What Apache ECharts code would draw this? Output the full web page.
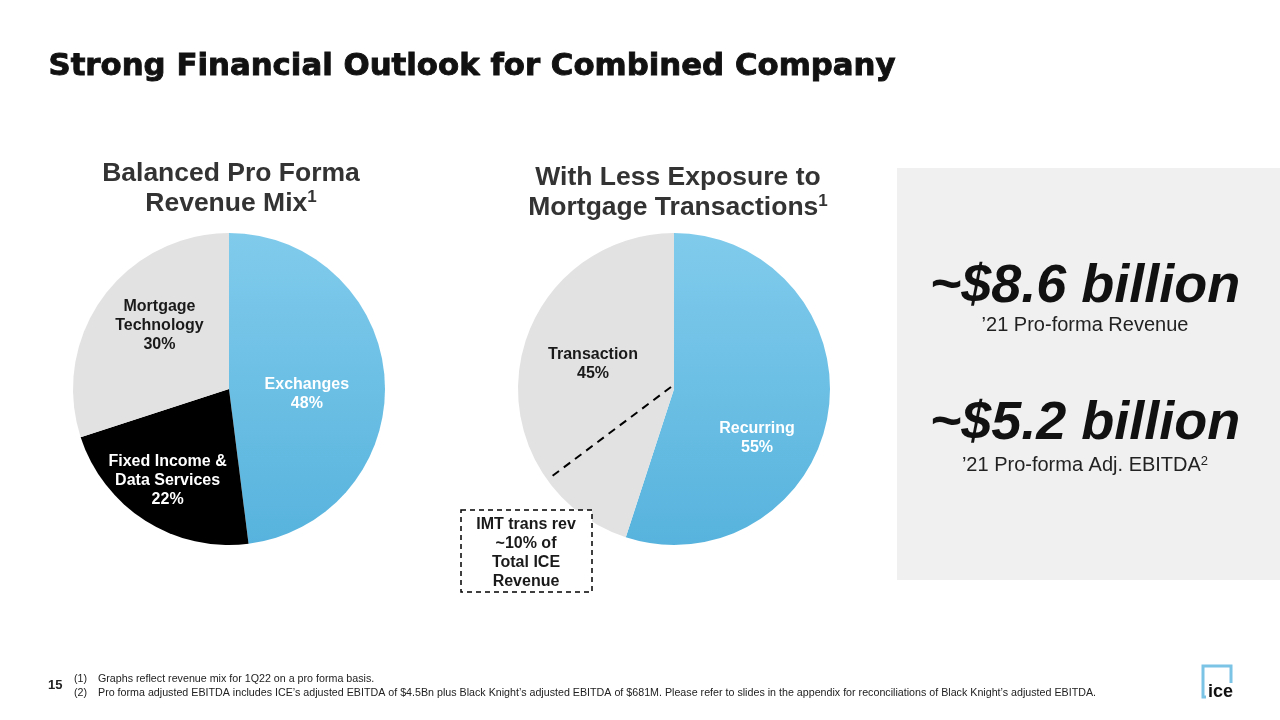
<!DOCTYPE html>
<html><head><meta charset="utf-8">
<script src="https://cdn.jsdelivr.net/npm/echarts@6/dist/echarts.min.js"></script>
<style>html,body{margin:0;padding:0;background:#fff}#c{width:1280px;height:720px}</style>
</head><body><div id="c"></div>
<script>
const mixCategories = ['Exchanges', 'Fixed Income &\nData Services', 'Mortgage\nTechnology'];
const mixValues = [48, 22, 30];
const exposureCategories = ['Recurring', 'Transaction'];
const exposureValues = [55, 45];

const blueGrad = {type:'linear',x:0,y:0,x2:0,y2:1,colorStops:[{offset:0,color:'#80cbec'},{offset:1,color:'#57b3dd'}]};
const F = 'Liberation Sans, Arial, sans-serif';

const mixStyles = [
  {color: blueGrad, text:'#ffffff', offset:[-3, 10]},
  {color: '#000000', text:'#ffffff', offset:[-18, 23]},
  {color: '#e2e2e2', text:'#1a1a1a', offset:[-4, -16]}
];
const expStyles = [
  {color: blueGrad, text:'#ffffff', offset:[3, 36]},
  {color: '#e2e2e2', text:'#1a1a1a', offset:[-1, -12]}
];

function build(cats, vals, styles){
  return cats.map((c,i)=>({
    name:c, value:vals[i],
    itemStyle:{color:styles[i].color},
    label:{color:styles[i].text, offset:styles[i].offset}
  }));
}

const pieBase = {
  type:'pie', radius:[0,156], startAngle:90, clockwise:true,
  silent:true, animation:false,
  label:{show:true, position:'inside', formatter:p=>p.name+'\n'+p.value+'%', fontFamily:F, fontWeight:'bold', fontSize:16, lineHeight:19, align:'center'},
  labelLine:{show:false},
  itemStyle:{borderWidth:0}
};

const chart = echarts.init(document.getElementById('c'));
chart.setOption({
  backgroundColor:'#ffffff',
  animation:false,
  series:[
    Object.assign({}, pieBase, {center:[229,389], data:build(mixCategories, mixValues, mixStyles)}),
    Object.assign({}, pieBase, {center:[674,389], data:build(exposureCategories, exposureValues, expStyles)})
  ],
  graphic:[
    {type:'rect', shape:{x:897,y:168,width:383,height:412}, style:{fill:'#f0f0f0'}, z:-10},
    {type:'text', left:48, top:51, style:{text:'Strong Financial Outlook for Combined Company', font:'bold 30.8px "DejaVu Sans", sans-serif', fill:'#111111', stroke:'#111111', lineWidth:0.9}},
    {type:'text', x:231, y:159, style:{text:'Balanced Pro Forma\nRevenue Mix{s|1}', align:'center', font:'bold 26.5px '+F, lineHeight:30, fill:'#333333', rich:{s:{font:'bold 17px '+F, fill:'#333333', verticalAlign:'top', padding:[0,0,12,0]}}}},
    {type:'text', x:678, y:163, style:{text:'With Less Exposure to\nMortgage Transactions{s|1}', align:'center', font:'bold 26.5px '+F, lineHeight:30, fill:'#333333', rich:{s:{font:'bold 17px '+F, fill:'#333333', verticalAlign:'top', padding:[0,0,12,0]}}}},
    {type:'line', shape:{x1:671,y1:387,x2:551,y2:477}, style:{stroke:'#000',lineWidth:2,lineDash:[8,6]}, z:10},
    {type:'rect', shape:{x:461,y:510,width:131,height:82}, style:{fill:'#ffffff',stroke:'#000',lineWidth:1.5,lineDash:[5,4]}, z:10},
    {type:'text', x:526, y:515, z:11, style:{text:'IMT trans rev\n~10% of\nTotal ICE\nRevenue', align:'center', font:'bold 16px '+F, lineHeight:19, fill:'#1a1a1a'}},
    {type:'text', x:1085, y:260, style:{text:'~$8.6 billion', align:'center', font:'italic bold 54px '+F, fill:'#111111'}},
    {type:'text', x:1085, y:315, style:{text:'\u201921 Pro-forma Revenue', align:'center', font:'20px '+F, fill:'#222222'}},
    {type:'text', x:1085, y:397, style:{text:'~$5.2 billion', align:'center', font:'italic bold 54px '+F, fill:'#111111'}},
    {type:'text', x:1085, y:455, style:{text:'\u201921 Pro-forma Adj. EBITDA{s|2}', align:'center', font:'20px '+F, fill:'#222222', rich:{s:{font:'13px '+F, fill:'#222222', verticalAlign:'top', padding:[0,0,8,0]}}}},
    {type:'text', x:48, y:679, style:{text:'15', font:'bold 13px '+F, fill:'#222'}},
    {type:'text', x:74, y:674, style:{text:'(1)', font:'10.7px '+F, fill:'#222'}},
    {type:'text', x:98, y:674, style:{text:'Graphs reflect revenue mix for 1Q22 on a pro forma basis.', font:'10.7px '+F, fill:'#222'}},
    {type:'text', x:74, y:688, style:{text:'(2)', font:'10.7px '+F, fill:'#222'}},
    {type:'text', x:98, y:688, style:{text:'Pro forma adjusted EBITDA includes ICE\u2019s adjusted EBITDA of $4.5Bn plus Black Knight\u2019s adjusted EBITDA of $681M. Please refer to slides in the appendix for reconciliations of Black Knight\u2019s adjusted EBITDA.', font:'10.7px '+F, fill:'#222'}},
    {type:'polyline', shape:{points:[[1206,697],[1203,697],[1203,666],[1231,666],[1231,683]]}, style:{stroke:'#7cc4e6',lineWidth:3,fill:null}},
    {type:'text', x:1208, y:683, style:{text:'ice', font:'bold 18px '+F, fill:'#111'}}
  ]
});
</script></body></html>
